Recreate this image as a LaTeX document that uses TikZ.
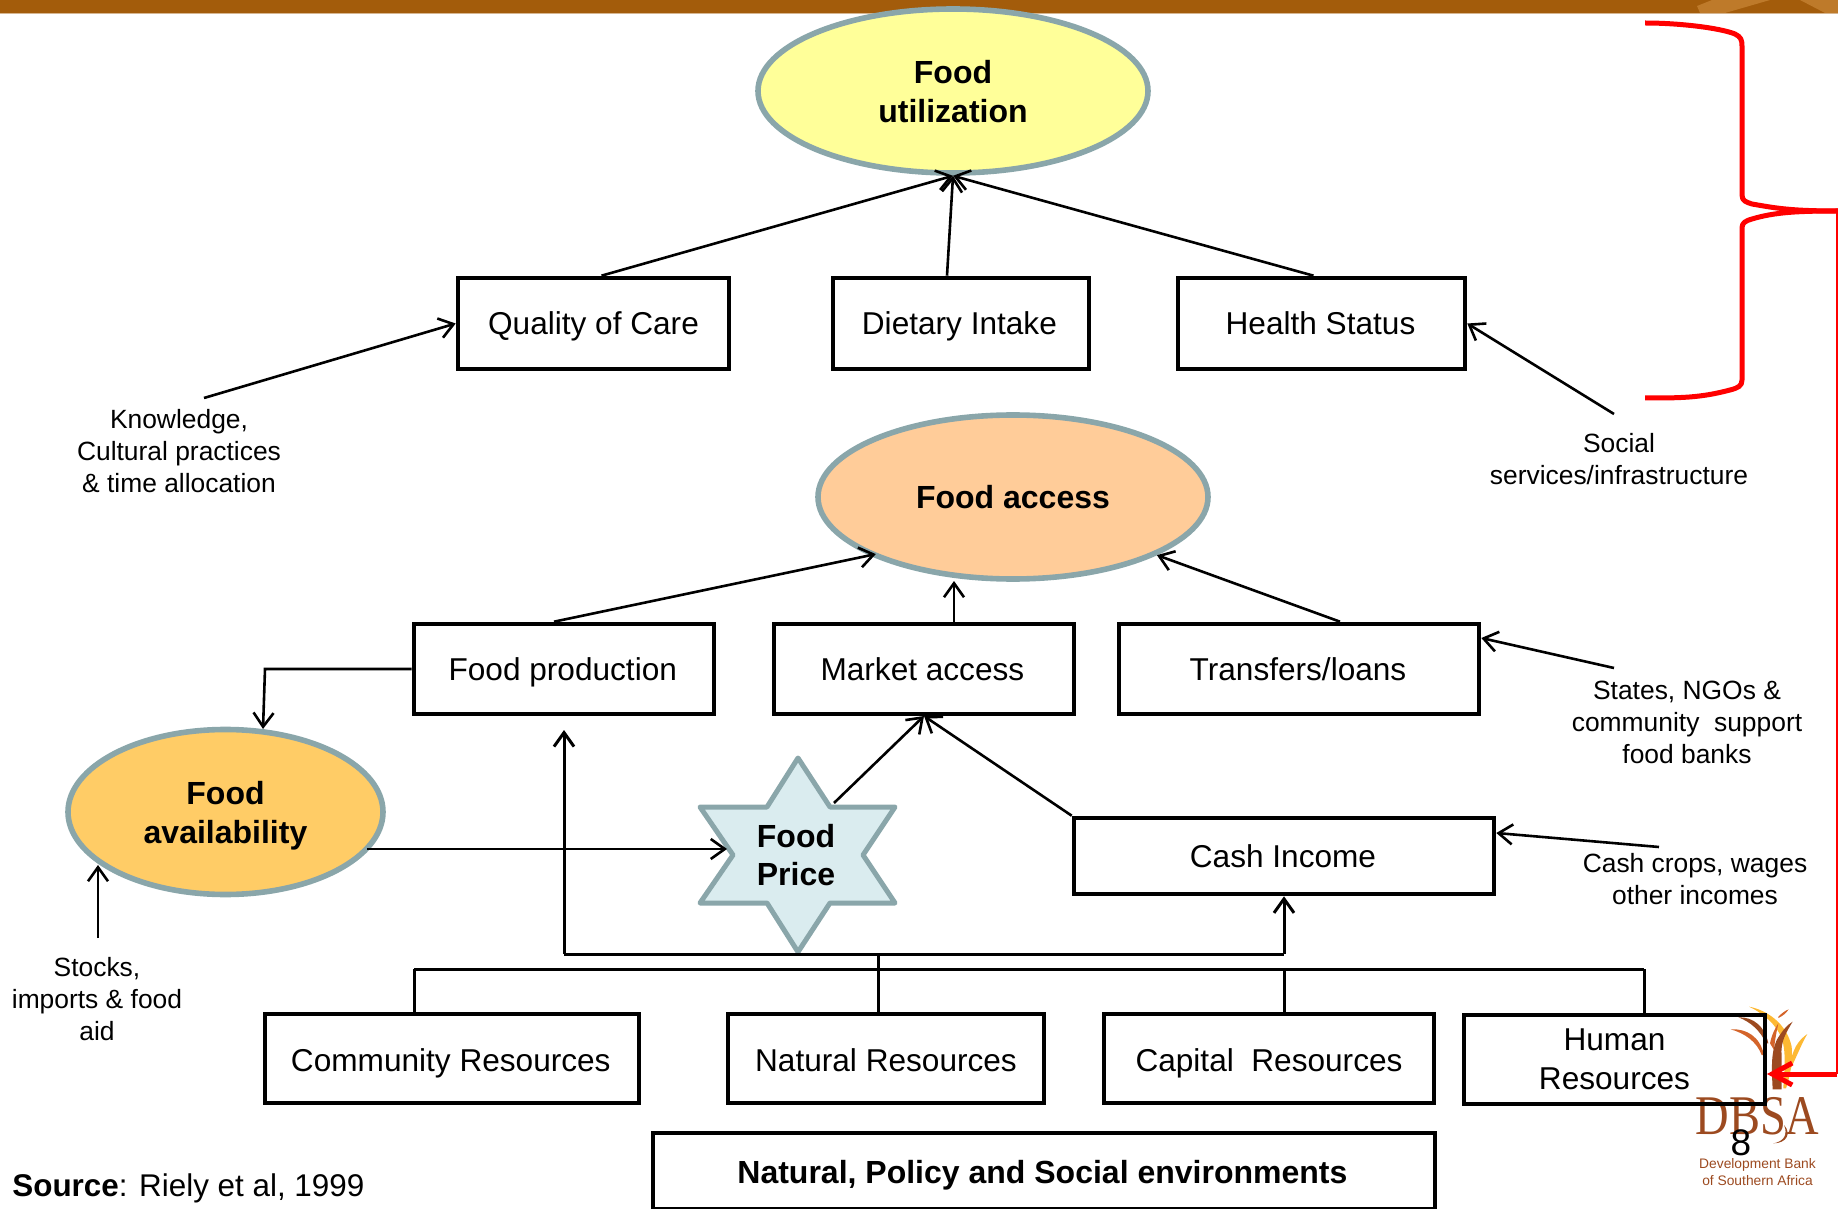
\documentclass[tikz,border=0pt]{standalone}
\usepackage{fontspec}
\setmainfont{Liberation Sans}
\newfontfamily\logoserif{Liberation Serif}
\usetikzlibrary{arrows.meta,shapes.geometric}
\definecolor{band}{HTML}{A35C0B}
\definecolor{bandlight}{HTML}{BE7A2A}
\definecolor{rim}{HTML}{8AA6AA}
\definecolor{logobrown}{HTML}{9C4A20}
\definecolor{logoorange}{HTML}{D4642A}
\definecolor{logoyellow}{HTML}{FDB933}
\tikzset{
  x=0.5pt,y=-0.5pt,
  >={Straight Barb[length=7pt,width=10pt]},
  boxnode/.style={draw=black,line width=2.3pt,inner sep=0pt,align=center,font=\fontsize{15.8}{19.3}\selectfont},
  oneline/.style={text height=11.4pt,text depth=0pt},
  lowline/.style={text height=13.2pt,text depth=0pt},
  goal/.style={ellipse,draw=rim,line width=2.8pt,inner sep=0pt,align=center,font=\bfseries\fontsize{16}{19.3}\selectfont},
  note/.style={inner sep=0pt,align=center,font=\fontsize{13.2}{16}\selectfont},
  conn/.style={line width=1.3pt,black},
  bus/.style={line width=1.5pt,black},
  redline/.style={line width=2.5pt,red,line cap=butt,line join=round},
}
\begin{document}
\begin{tikzpicture}
\useasboundingbox (0,0) rectangle (1838,1209);
% top band
\fill[band] (0,0) rectangle (1838,13);
\fill[bandlight] (1697,6) -- (1712,0) -- (1770,0) -- (1725,13) -- (1700,13) -- cycle;
\fill[bandlight] (1800,0) -- (1838,0) -- (1838,13) -- (1825,13) -- cycle;
\fill[band!45!white] (0,13) rectangle (1838,14.5);
% goals
\node[goal,fill={rgb,255:red,255;green,255;blue,153},minimum width=195pt,minimum height=82pt] (util) at (953,91) {\rule{0pt}{12.4pt}Food\\utilization};
\node[goal,fill={rgb,255:red,255;green,204;blue,153},minimum width=195pt,minimum height=82pt] (acc) at (1013,497) {Food access};
\node[goal,fill={rgb,255:red,255;green,204;blue,102},minimum width=157.5pt,minimum height=82.5pt] (avail) at (225.5,812) {\rule{0pt}{15.6pt}Food\\availability};
% logo (behind boxes)
\begin{scope}[shift={(1600,960)},x=0.16667pt,y=-0.16667pt]
\fill[logoyellow] (447,140) .. controls (500,150) and (560,190) .. (575,260) .. controls (578,310) and (570,350) .. (558,385) -- (550,385) .. controls (552,330) and (560,280) .. (545,235) .. controls (530,195) and (490,160) .. (447,140) -- cycle;
\fill[logoyellow] (570,320) .. controls (575,270) and (595,240) .. (622,222) .. controls (605,250) and (590,290) .. (570,330) -- cycle;
\fill[logoorange] (535,170) .. controls (545,160) and (555,152) .. (566,148) .. controls (558,160) and (548,168) .. (535,174) -- cycle;
\fill[logoorange] (392,208) .. controls (440,205) and (480,230) .. (492,285) -- (485,285) .. controls (470,245) and (435,220) .. (392,208) -- cycle;
\fill[logoorange] (510,250) .. controls (515,225) and (525,205) .. (535,190) .. controls (530,215) and (525,235) .. (522,270) -- cycle;
\fill[logobrown] (415,172) .. controls (460,170) and (495,200) .. (505,250) -- (498,250) .. controls (480,210) and (450,185) .. (415,172) -- cycle;
\fill[logobrown] (518,388) .. controls (515,330) and (512,280) .. (530,240) .. controls (545,215) and (560,195) .. (578,185) .. controls (560,215) and (540,245) .. (545,290) -- (545,388) -- cycle;
\fill[logobrown] (520,550) .. controls (550,545) and (565,525) .. (552,495) .. controls (575,520) and (560,550) .. (520,550) -- cycle;
\end{scope}
\node[inner sep=0pt,text=logobrown,font=\logoserif\fontsize{28}{28}\selectfont,xscale=0.83] (dbsa) at (1757.5,1116.5) {DBSA};
\node[inner sep=0pt,align=center,text=logobrown,font=\fontsize{6.9}{8.5}\selectfont] (bank) at (1757.5,1172) {Development Bank\\of Southern Africa};
% boxes
\node[boxnode,oneline,minimum width=135.5pt,minimum height=45.5pt] (care) at (593.5,323.5) {Quality of Care};
\node[boxnode,oneline,minimum width=128pt,minimum height=45.5pt] (diet) at (961,323.5) {Dietary Intake\hspace{1.6pt}};
\node[boxnode,oneline,minimum width=143.5pt,minimum height=45.5pt] (health) at (1321.5,323.5) {Health Status\hspace{1pt}};
\node[boxnode,oneline,minimum width=150pt,minimum height=45pt] (prod) at (564,669) {Food production\hspace{1.2pt}};
\node[boxnode,oneline,minimum width=150pt,minimum height=45pt] (market) at (924,669) {Market access\hspace{1.6pt}};
\node[boxnode,oneline,minimum width=180pt,minimum height=45pt] (trans) at (1299,669) {Transfers/loans\hspace{1pt}};
\node[boxnode,oneline,minimum width=210pt,minimum height=38pt] (cash) at (1284,856) {Cash Income\hspace{1pt}};
\node[boxnode,lowline,minimum width=187pt,minimum height=44.5pt] (comm) at (452,1058.5) {Community Resources\hspace{1.2pt}};
\node[boxnode,lowline,minimum width=158pt,minimum height=44.5pt] (nat) at (886,1058.5) {Natural Resources};
\node[boxnode,lowline,minimum width=165pt,minimum height=44.5pt] (cap) at (1269,1058.5) {Capital\ \ Resources};
\node[boxnode,minimum width=150.5pt,minimum height=44.5pt] (human) at (1614.5,1059.5) {Human\\Resources};
\node[boxnode,oneline,text height=12.4pt,font=\bfseries\fontsize{16}{18}\selectfont,minimum width=391pt,minimum height=38pt] (env) at (1044,1171) {Natural, Policy and Social environments\hspace{1.6pt}};
% star
\filldraw[draw=rim,fill={rgb,255:red,218;green,236;blue,239},line width=2.5pt,line join=round]
  (798,758) -- (830,807) -- (895,807) -- (863,855) -- (895,903) -- (830,903) -- (798,952) -- (767,903) -- (700,903) -- (733,855) -- (700,807) -- (767,807) -- cycle;
\node[inner sep=0pt,align=center,font=\bfseries\fontsize{16}{19}\selectfont] (price) at (796,855) {Food\\Price};
% notes
\node[note] (know) at (179,451) {Knowledge,\\Cultural practices\\\& time allocation};
\node[note] (social) at (1619,459) {Social\\services/infrastructure};
\node[note] (states) at (1687,722) {States, NGOs \&\\community\ \ support\\food banks};
\node[note] (crops) at (1695,879) {Cash crops, wages\\other incomes};
\node[note] (stocks) at (97,999) {Stocks,\\imports \& food\\aid};
\node[anchor=west,inner sep=0pt,font=\fontsize{15.7}{19}\selectfont] (src) at (12,1188) {\textbf{Source}: Riely et al, 1999};
\node[inner sep=0pt,font=\fontsize{18.5}{19}\selectfont] (page) at (1741,1143) {8};
% named free ends
\coordinate (mtip) at (954,581);
\coordinate (availtip) at (263,729);
\coordinate (knowstart) at (204,398);
\coordinate (socialstart) at (1614,414);
\coordinate (statesstart) at (1614,668);
\coordinate (cropsstart) at (1659,847);
\coordinate (stocksstart) at (98,938);
\coordinate (stockstip) at (98,865);
\coordinate (prodleft) at (265,669);
\coordinate (marketip) at (924,716);
% connectors
\draw[conn,->] ([xshift=4pt]care.north) -- (util.south);
\draw[conn,->] ([xshift=-7pt]diet.north) -- (util.south);
\draw[conn,->] ([xshift=-4pt]health.north) -- (util.south);
\draw[conn,->] (knowstart) -- (care.west);
\draw[conn,->] (socialstart) -- (health.east);
\draw[conn,->] ([xshift=-5pt]prod.north) -- ([yshift=2pt]acc.204);
\draw[conn,->] (mtip |- market.north) -- (mtip);
\draw[conn,->] ([xshift=20.5pt]trans.north) -- (acc.338);
\draw[conn,->] (statesstart) -- ([yshift=15.5pt]trans.east);
\draw[conn,->] (prod.west) -- (prodleft) -- (availtip);
\draw[conn,->] (stocksstart) -- (stockstip);
\draw[conn,->] (367,849) -- (727,849);
\draw[conn,->] (834,803) -- (marketip);
\draw[conn,->] (cash.north west) -- (marketip);
\draw[conn,->] (cropsstart) -- ([yshift=11.5pt]cash.east);
% buses
\coordinate (busA) at (564,954);
\coordinate (busB) at (1284,954);
\coordinate (busC) at (414,969);
\coordinate (busD) at (1644,969);
\draw[bus] (busA) -- (busB);
\draw[bus] (busC) -- (busD);
\draw[bus,->] (busA) -- (prod.south |- 0,730);
\draw[bus,->] (busB) -- (cash.south);
\draw[bus] (busC) -- (busC |- comm.north);
\draw[bus] (878,954) -- (878,1014);
\draw[bus] (1284,969) -- (1284,1014);
\draw[bus] (busD) -- (busD |- human.north);
% red brace
\draw[redline] (1645,23) .. controls (1680,23) and (1720,28) .. (1735,34) .. controls (1741,37) and (1742,40) .. (1742,46) -- (1742,195) .. controls (1742,201) and (1746,202) .. (1752,204) .. controls (1775,208) and (1790,211) .. (1838,211);
\draw[redline] (1838,211) .. controls (1800,211) and (1775,212) .. (1752,219) .. controls (1745,221) and (1742,223) .. (1742,228) -- (1742,380) .. controls (1742,386) and (1738,388) .. (1730,390) .. controls (1700,398) and (1680,398) .. (1645,398);
\draw[red,line width=1.5pt] (1837,211) -- (1837,1074);
\draw[redline,-{Straight Barb[length=10pt,width=11pt]}] (1837,1074) -- (1767,1074);
\end{tikzpicture}
\end{document}
